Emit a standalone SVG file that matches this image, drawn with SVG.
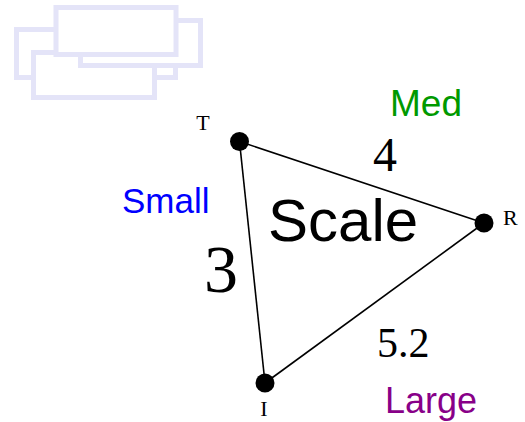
<svg xmlns="http://www.w3.org/2000/svg" width="525" height="422" viewBox="0 0 525 422">
<style>
.logo{fill:#ffffff;stroke:#e4e4f8;stroke-width:5}
.edge{stroke:#000;stroke-width:1.6;fill:none}
.dot{fill:#000}
.nl{font-family:"Liberation Serif",serif;font-size:22px;fill:#000}
.num{font-family:"Liberation Serif",serif;fill:#000}
.sans{font-family:"Liberation Sans",Arial,sans-serif}
</style>
<rect width="525" height="422" fill="#ffffff"/>
<g id="logo">
<rect class="logo" x="16.5" y="29.5" width="159" height="48"/>
<rect class="logo" x="33.5" y="52.5" width="121" height="45"/>
<rect class="logo" x="80.5" y="20.5" width="120" height="45"/>
<rect class="logo" x="56" y="7.5" width="120" height="47"/>
</g>
<g id="connectors">
<line class="edge" x1="239.5" y1="141.5" x2="484" y2="223"/>
<line class="edge" x1="484" y1="223" x2="265" y2="383"/>
<line class="edge" x1="265" y1="383" x2="239.5" y2="141.5"/>
</g>
<g id="node-T">
<circle class="dot" cx="239.5" cy="141.5" r="9.5"/>
<text class="nl" x="203" y="130" text-anchor="middle">T</text>
</g>
<g id="node-R">
<circle class="dot" cx="484" cy="223" r="9.5"/>
<text class="nl" x="503" y="225">R</text>
</g>
<g id="node-I">
<circle class="dot" cx="265" cy="383" r="9.5"/>
<text class="nl" x="264" y="416" text-anchor="middle">I</text>
</g>
<g id="labels">
<text class="sans" x="268" y="241" font-size="60" fill="#000">Scale</text>
<text class="sans" x="122" y="213" font-size="35" fill="#0000ff">Small</text>
<text class="sans" x="390" y="116" font-size="37" fill="#009900">Med</text>
<text class="sans" x="385" y="413" font-size="36" fill="#880088">Large</text>
<text class="num" x="385" y="171" font-size="48" text-anchor="middle">4</text>
<text class="num" x="221" y="292" font-size="68" text-anchor="middle">3</text>
<text class="num" x="377" y="357" font-size="42">5.2</text>
</g>
</svg>
